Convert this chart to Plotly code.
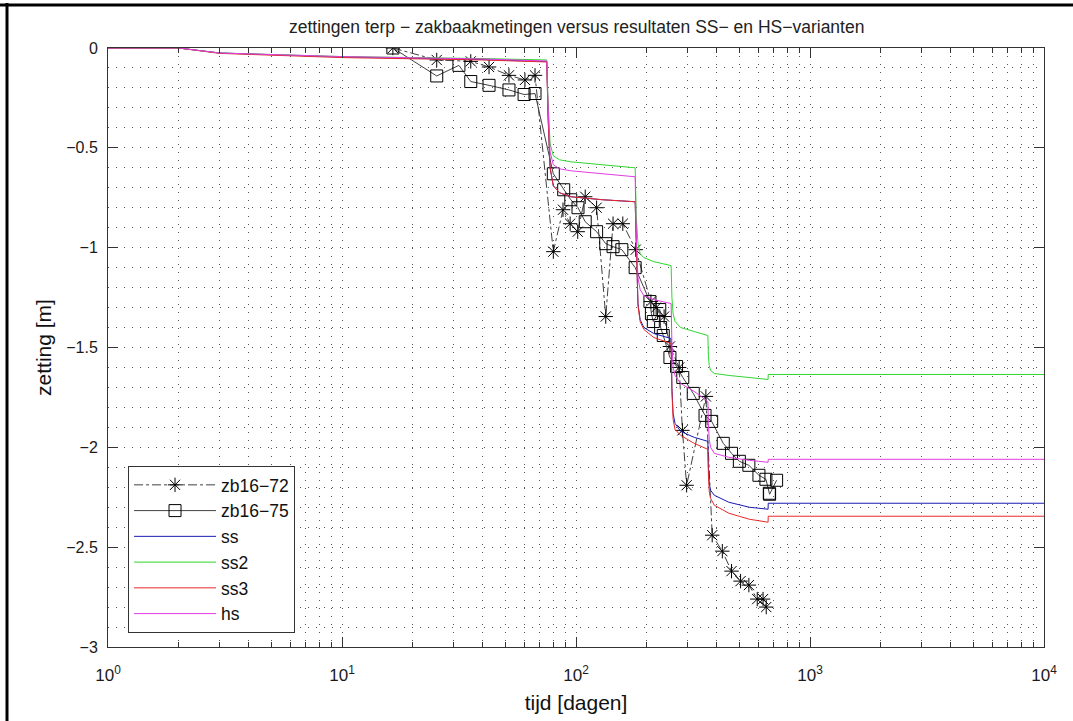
import plotly.graph_objects as go

# --- measured settlement (zakbaakmetingen) ---
t_zb72 = [16.5, 25.4, 35.5, 42.5, 51.7, 60.5, 66.8, 80, 88, 94.4, 101.7, 109.5, 122.5, 134, 144, 158.5,
          180, 209, 220, 238, 252, 276, 285, 297, 359, 382, 422, 462, 505, 548, 595, 630, 650]
z_zb72 = [0, -0.06, -0.067, -0.095, -0.137, -0.16, -0.137, -1.02, -0.81, -0.88, -0.92, -0.745, -0.80, -1.345,
          -0.88, -0.88, -1.01, -1.27, -1.30, -1.345, -1.495, -1.60, -1.915, -2.19, -1.745, -2.44, -2.52, -2.62,
          -2.67, -2.69, -2.76, -2.76, -2.80]

t_zb75 = [16.5, 25.4, 31.6, 35.5, 42.5, 51.7, 60, 66.8, 80, 88.6, 95, 102, 109.5, 122.5, 134, 144, 157, 179,
          207, 210, 214, 228, 230, 236, 252, 269, 286, 317, 356, 380, 426, 462, 499, 548, 605, 648, 670, 672, 720]
z_zb75 = [0, -0.14, -0.087, -0.168, -0.187, -0.21, -0.233, -0.228, -0.63, -0.71, -0.76, -0.80, -0.87, -0.92,
          -0.98, -0.995, -1.01, -1.10, -1.27, -1.33, -1.37, -1.31, -1.40, -1.44, -1.55, -1.595, -1.65, -1.73,
          -1.84, -1.87, -1.98, -2.03, -2.07, -2.09, -2.14, -2.16, -2.23, -2.235, -2.165]

# --- calculated settlement for the model variants ---
t_model = [1, 2, 3, 10, 40, 75, 76, 77.5, 80, 85, 95, 130, 179, 181, 184, 188, 195, 215, 255, 257, 260, 265,
           280, 320, 366, 368, 371, 376, 390, 450, 550, 662, 663, 10000]
z_ss = [0, 0, -0.025, -0.045, -0.058, -0.068, -0.35, -0.6, -0.69, -0.725, -0.745, -0.76, -0.77, -1.05, -1.28,
        -1.36, -1.40, -1.43, -1.455, -1.70, -1.83, -1.88, -1.92, -1.95, -1.97, -2.10, -2.18, -2.215, -2.24,
        -2.275, -2.30, -2.31, -2.28, -2.28]
z_ss2 = [0, 0, -0.025, -0.043, -0.053, -0.06, -0.28, -0.48, -0.54, -0.56, -0.57, -0.585, -0.60, -0.85, -0.98,
         -1.03, -1.05, -1.07, -1.09, -1.25, -1.33, -1.37, -1.40, -1.42, -1.44, -1.54, -1.59, -1.615, -1.63,
         -1.64, -1.65, -1.66, -1.635, -1.635]
z_ss3 = [0, 0, -0.027, -0.048, -0.06, -0.07, -0.35, -0.6, -0.69, -0.725, -0.745, -0.76, -0.77, -1.05, -1.29,
         -1.37, -1.41, -1.45, -1.48, -1.72, -1.86, -1.91, -1.94, -1.98, -2.01, -2.14, -2.22, -2.255, -2.29,
         -2.33, -2.36, -2.375, -2.345, -2.345]
z_hs = [0, 0, -0.025, -0.043, -0.055, -0.065, -0.3, -0.52, -0.585, -0.605, -0.615, -0.63, -0.645, -0.95, -1.15,
        -1.21, -1.24, -1.26, -1.28, -1.48, -1.60, -1.64, -1.68, -1.72, -1.77, -1.88, -1.96, -2.0, -2.03, -2.05,
        -2.065, -2.075, -2.06, -2.06]

x_major = [1, 10, 100, 1000, 10000]
x_major_text = ["10<sup>0</sup>", "10<sup>1</sup>", "10<sup>2</sup>", "10<sup>3</sup>", "10<sup>4</sup>"]
x_minor = [m * d for d in (1, 10, 100, 1000) for m in range(2, 10)]
y_ticks = [0, -0.5, -1, -1.5, -2, -2.5, -3]
y_tick_text = ["0", "\u22120.5", "\u22121", "\u22121.5", "\u22122", "\u22122.5", "\u22123"]

FONT = "Liberation Sans, Arial, sans-serif"
GRID_DASH = "1px,7px"
GRID_COLOR = "#555"
AXIS_COLOR = "#333"

fig = go.Figure()
fig.add_trace(go.Scatter(
    x=t_zb72, y=z_zb72, name="zb16\u221272", mode="lines+markers",
    line=dict(color="#404040", width=1, dash="dashdot"),
    marker=dict(symbol="asterisk-open", size=12, color="black", line=dict(color="black", width=1))))
fig.add_trace(go.Scatter(
    x=t_zb75, y=z_zb75, name="zb16\u221275", mode="lines+markers",
    line=dict(color="#404040", width=1),
    marker=dict(symbol="square-open", size=12, color="black", line=dict(color="black", width=1))))
for z, name, color in [(z_ss, "ss", "#1a1ab4"), (z_ss2, "ss2", "#2fd62f"),
                       (z_ss3, "ss3", "#e82a2a"), (z_hs, "hs", "#e23ce2")]:
    fig.add_trace(go.Scatter(x=t_model, y=z, name=name, mode="lines",
                             line=dict(color=color, width=1)))

fig.update_layout(
    width=1073, height=721,
    margin=dict(l=108, r=29, t=48, b=74),
    paper_bgcolor="white", plot_bgcolor="white",
    font=dict(family=FONT, size=16, color="#1a1a1a"),
    title=dict(text="zettingen terp \u2212 zakbaakmetingen versus resultaten SS\u2212 en HS\u2212varianten",
               x=0.5375, xanchor="center", y=0.9625, yanchor="middle",
               font=dict(size=17.5, color="#222")),
    legend=dict(x=0.0214, y=0.0234, xanchor="left", yanchor="bottom",
                bgcolor="white", bordercolor="#333", borderwidth=1,
                font=dict(size=17.5, color="#111"), itemwidth=82, tracegroupgap=0),
    showlegend=True,
)

fig.update_xaxes(
    type="log", range=[0, 4],
    tickmode="array", tickvals=x_major, ticktext=x_major_text,
    ticks="inside", ticklen=10, tickcolor=AXIS_COLOR,
    showline=True, linecolor=AXIS_COLOR, linewidth=1, mirror="ticks",
    showgrid=True, gridcolor=GRID_COLOR, griddash=GRID_DASH, gridwidth=1,
    minor=dict(tickmode="array", tickvals=x_minor, ticks="inside", ticklen=5, tickcolor=AXIS_COLOR,
               showgrid=True, gridcolor=GRID_COLOR, griddash=GRID_DASH, gridwidth=1),
    zeroline=False, ticklabelstandoff=13, tickfont=dict(size=17),
    title=dict(text="tijd [dagen]", font=dict(size=21, color="#111"), standoff=10),
)
fig.update_yaxes(
    range=[-3, 0],
    tickmode="array", tickvals=y_ticks, ticktext=y_tick_text,
    ticks="inside", ticklen=10, tickcolor=AXIS_COLOR,
    showline=True, linecolor=AXIS_COLOR, linewidth=1, mirror="ticks",
    showgrid=True, gridcolor=GRID_COLOR, griddash=GRID_DASH, gridwidth=1,
    minor=dict(dtick=0.1, ticks="", showgrid=True, gridcolor=GRID_COLOR, griddash=GRID_DASH, gridwidth=1),
    zeroline=False, ticklabelstandoff=6,
    title=dict(text="zetting [m]", font=dict(size=21, color="#111"), standoff=8),
)

# figure frame lines along the top and left edge
fig.add_shape(type="line", xref="paper", yref="paper", x0=-0.12, x1=1.04, y0=1.0718, y1=1.0718,
              line=dict(color="black", width=3))
fig.add_shape(type="line", xref="paper", yref="paper", x0=-0.1079, x1=-0.1079, y0=1.075, y1=-0.13,
              line=dict(color="black", width=3))

fig.write_html("out.html")
